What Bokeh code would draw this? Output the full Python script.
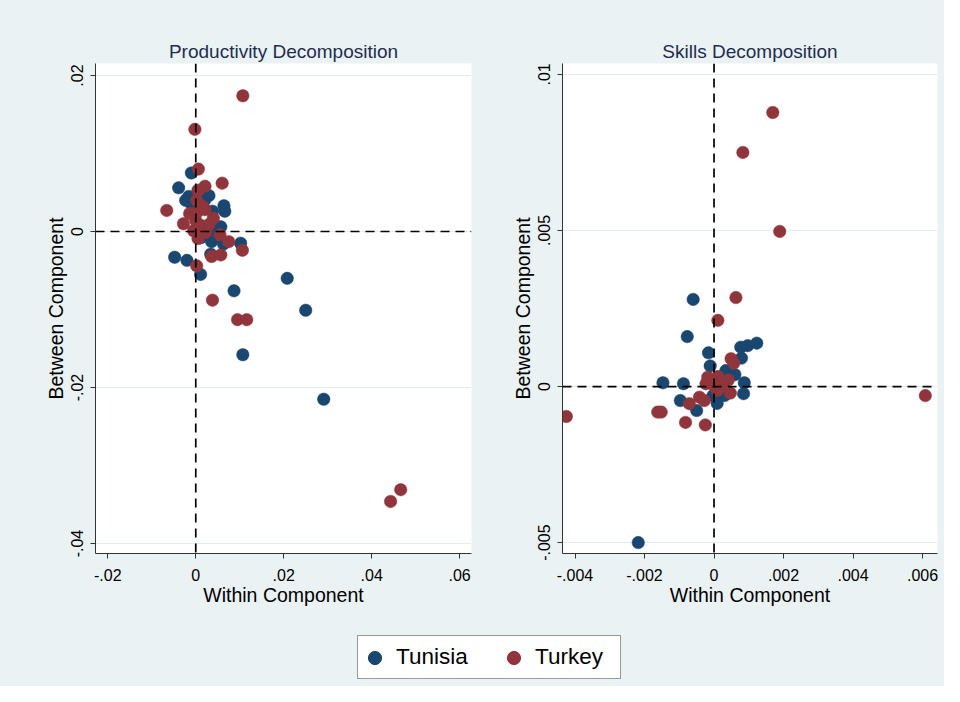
from bokeh.plotting import figure
from bokeh.models import Range1d, FixedTicker, Span, Legend, LegendItem
from bokeh.layouts import column, row
from bokeh.embed import file_html
from bokeh.resources import INLINE

# ---------------- data ----------------
countries = ["Tunisia", "Turkey"]
colors = ["#1a476f", "#90353b"]

# Productivity decomposition
prod_tun_within = [-0.0010, -0.0039, 0.0030, -0.0011, -0.0023, 0.0000, 0.0011, 0.0064, 0.0066,
                   0.0038, 0.0057, 0.0036, 0.0036, 0.0063, 0.0102, 0.0034, -0.0048, -0.0020,
                   0.0011, 0.0208, 0.0087, 0.0250, 0.0107, 0.0291, 0.0011, -0.0016, 0.0020]
prod_tun_between = [0.0075, 0.0056, 0.0046, 0.0036, 0.0040, 0.0042, 0.0033, 0.0033, 0.0026,
                    0.0026, 0.0006, 0.0002, -0.0013, -0.0016, -0.0015, -0.0029, -0.0033, -0.0037,
                    -0.0055, -0.0060, -0.0076, -0.0101, -0.0158, -0.0215, -0.0008, 0.0045, 0.0040]
prod_tur_within = [0.0107, -0.0002, 0.0006, 0.0060, 0.0021, 0.0005, -0.0066, 0.0002, 0.0021,
                   -0.0014, 0.0040, -0.0028, 0.0055, 0.0075, 0.0106, 0.0036, 0.0057, 0.0002,
                   0.0038, 0.0095, 0.0116, 0.0443, 0.0466, 0.0000, 0.0011, -0.0005, 0.0007,
                   0.0023, 0.0030, 0.0002, 0.0016, 0.0005]
prod_tur_between = [0.0174, 0.0131, 0.0080, 0.0062, 0.0058, 0.0053, 0.0027, 0.0040, 0.0028,
                    0.0023, 0.0017, 0.0010, -0.0004, -0.0013, -0.0024, -0.0032, -0.0030, -0.0044,
                    -0.0088, -0.0113, -0.0113, -0.0346, -0.0331, 0.0014, 0.0008, 0.0001, -0.0006,
                    -0.0001, 0.0009, 0.0024, 0.0032, -0.0009]

# Skills decomposition
skill_tun_within = [-0.00060, -0.00077, -0.00016, -0.00011, -0.00147, -0.00088, 0.00077, 0.00097,
                    0.00123, 0.00079, 0.00034, 0.00060, 0.00087, 0.00085, -0.00097, -0.00050,
                    0.00009, 0.00030, -0.00218, -0.00003, 0.00020]
skill_tun_between = [0.00279, 0.00160, 0.00108, 0.00066, 0.00012, 0.00009, 0.00126, 0.00131,
                     0.00139, 0.00091, 0.00051, 0.00038, 0.00012, -0.00023, -0.00045, -0.00077,
                     -0.00054, -0.00029, -0.00500, -0.00029, 0.00020]
skill_tur_within = [0.00169, 0.00083, 0.00189, 0.00063, 0.00011, 0.00049, 0.00057, -0.00018,
                    0.00011, 0.00041, -0.00023, 0.00001, 0.00009, 0.00047, -0.00042, -0.00028,
                    -0.00071, -0.00162, -0.00152, -0.00082, -0.00025, -0.00425, 0.00608,
                    -0.00009, 0.00020]
skill_tur_between = [0.00878, 0.00750, 0.00497, 0.00285, 0.00212, 0.00089, 0.00075, 0.00030,
                     0.00032, 0.00021, 0.00009, 0.00003, -0.00013, -0.00021, -0.00034, -0.00045,
                     -0.00055, -0.00082, -0.00082, -0.00115, -0.00123, -0.00096, -0.00029,
                     0.00019, 0.00000]

prod_xticks = [-0.02, 0, 0.02, 0.04, 0.06]
prod_xlabels = ["-.02", "0", ".02", ".04", ".06"]
prod_yticks = [-0.04, -0.02, 0, 0.02]
prod_ylabels = ["-.04", "-.02", "0", ".02"]
skill_xticks = [-0.004, -0.002, 0, 0.002, 0.004, 0.006]
skill_xlabels = ["-.004", "-.002", "0", ".002", ".004", ".006"]
skill_yticks = [-0.005, 0, 0.005, 0.01]
skill_ylabels = ["-.005", "0", ".005", ".01"]

BG = "#eaf2f3"
FONT = "Liberation Sans"


def panel(title, xr, yr, xt, xl, yt, yl, series, width, left, right):
    p = figure(width=width, height=620, x_range=Range1d(*xr), y_range=Range1d(*yr),
               toolbar_location=None, output_backend="svg",
               min_border_left=left, min_border_right=right,
               min_border_top=63, min_border_bottom=67)
    p.background_fill_color = "white"
    p.border_fill_color = BG
    p.outline_line_color = None
    p.title.text = title
    p.title.align = "center"
    p.title.text_font = FONT
    p.title.text_font_size = "19px"
    p.title.text_font_style = "normal"
    p.title.text_color = "#1f2d50"
    p.title.standoff = 3
    p.xgrid.visible = False
    p.ygrid.grid_line_color = "#e3ecee"
    p.ygrid.grid_line_width = 1
    p.ygrid.ticker = FixedTicker(ticks=yt)
    p.xaxis.ticker = FixedTicker(ticks=xt)
    p.yaxis.ticker = FixedTicker(ticks=yt)
    p.xaxis.major_label_overrides = {t: s for t, s in zip(xt, xl)}
    p.yaxis.major_label_overrides = {t: s for t, s in zip(yt, yl)}
    p.yaxis.major_label_orientation = "vertical"
    for ax in (p.xaxis, p.yaxis):
        ax.axis_line_color = "#333333"
        ax.axis_line_width = 1
        ax.major_tick_line_color = "#333333"
        ax.major_tick_in = 0
        ax.major_tick_out = 5
        ax.minor_tick_line_color = None
        ax.major_label_text_font = FONT
        ax.major_label_text_font_size = "16px"
        ax.major_label_text_color = "black"
        ax.axis_label_text_font = FONT
        ax.axis_label_text_font_size = "19.5px"
        ax.axis_label_text_font_style = "normal"
        ax.axis_label_text_color = "black"
    p.xaxis.axis_label = "Within Component"
    p.yaxis.axis_label = "Between Component"
    p.xaxis.major_label_standoff = 10
    p.yaxis.major_label_standoff = 7
    p.xaxis.axis_label_standoff = 0
    p.yaxis.axis_label_standoff = 2
    p.add_layout(Span(location=0, dimension="height", line_color="black",
                      line_width=1.7, line_dash="9 6"))
    p.add_layout(Span(location=0, dimension="width", line_color="black",
                      line_width=1.7, line_dash="9 6"))
    for (xs, ys), c in zip(series, colors):
        p.scatter(x=xs, y=ys, size=12.5, fill_color=c, line_color=c, line_width=0.5)
    return p


p1 = panel("Productivity Decomposition", (-0.0228, 0.0627), (-0.04128, 0.02154),
           prod_xticks, prod_xlabels, prod_yticks, prod_ylabels,
           [(prod_tun_within, prod_tun_between), (prod_tur_within, prod_tur_between)],
           width=508, left=95, right=37)
p2 = panel("Skills Decomposition", (-0.00436, 0.00643), (-0.00535, 0.01035),
           skill_xticks, skill_xlabels, skill_yticks, skill_ylabels,
           [(skill_tun_within, skill_tun_between), (skill_tur_within, skill_tur_between)],
           width=436, left=53, right=7)

leg = figure(width=944, height=66, x_range=Range1d(0, 1), y_range=Range1d(0, 1),
             toolbar_location=None, output_backend="svg", min_border=0)
leg.axis.visible = False
leg.grid.visible = False
leg.outline_line_color = None
leg.background_fill_color = BG
leg.border_fill_color = BG
items = []
for name, c in zip(countries, colors):
    # off-range placeholder point so the legend glyph is drawn
    r = leg.scatter(x=[-10], y=[-10], size=13, fill_color=c, line_color=c)
    items.append(LegendItem(label=name, renderers=[r]))
legend = Legend(items=items, location=(357, 7), orientation="horizontal")
legend.label_text_font = FONT
legend.label_text_font_size = "22.5px"
legend.label_text_color = "black"
legend.border_line_color = "#333333"
legend.border_line_width = 1.5
legend.background_fill_color = "white"
legend.background_fill_alpha = 1
legend.padding = 0
legend.margin = 0
legend.spacing = 16
legend.label_standoff = 5
legend.glyph_width = 33
legend.glyph_height = 33
legend.label_height = 42
legend.label_width = 85
leg.add_layout(legend)

layout = column(row(p1, p2, styles={"background-color": BG}), leg,
                styles={"background-color": BG})
open("out.html", "w").write(file_html(layout, INLINE))
